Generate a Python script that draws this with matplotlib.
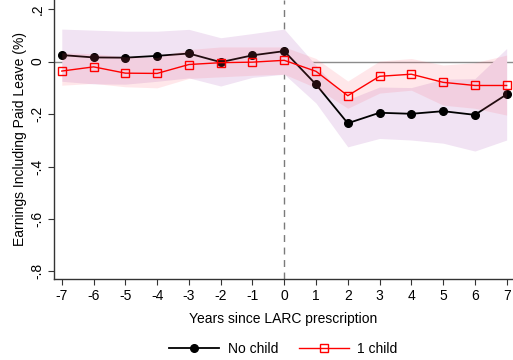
import numpy as np
import matplotlib.pyplot as plt

plt.rcParams['font.family'] = ['Liberation Sans', 'DejaVu Sans']

# event time
years = [-7, -6, -5, -4, -3, -2, -1, 0, 1, 2, 3, 4, 5, 6, 7]

# no child: point estimate and 95% CI
nochild = [0.025, 0.016, 0.015, 0.022, 0.031, -0.002, 0.024, 0.040,
           -0.087, -0.235, -0.195, -0.199, -0.189, -0.203, -0.125]
nochild_hi = [0.124, 0.120, 0.116, 0.116, 0.123, 0.091, 0.107, 0.124,
              -0.014, -0.145, -0.097, -0.099, -0.067, -0.065, 0.050]
nochild_lo = [-0.075, -0.085, -0.086, -0.075, -0.062, -0.093, -0.060, -0.048,
              -0.158, -0.325, -0.293, -0.299, -0.311, -0.341, -0.299]

# one child: point estimate and 95% CI
onechild = [-0.036, -0.020, -0.044, -0.045, -0.011, -0.004, -0.002, 0.005,
            -0.037, -0.130, -0.056, -0.048, -0.079, -0.091, -0.091]
onechild_hi = [0.034, 0.030, 0.018, 0.016, 0.046, 0.056, 0.056, 0.056,
               0.012, -0.074, 0.002, 0.012, -0.013, -0.004, 0.025]
onechild_lo = [-0.090, -0.083, -0.096, -0.100, -0.064, -0.058, -0.052, -0.048,
               -0.100, -0.178, -0.120, -0.109, -0.166, -0.178, -0.204]

yticks = [0.2, 0, -0.2, -0.4, -0.6, -0.8]
ytick_labels = ['.2', '0', '-.2', '-.4', '-.6', '-.8']

FS = 10

fig = plt.figure(figsize=(5.13, 3.6), dpi=100)
ax = fig.add_axes([0.105, 0.225, 0.895, 0.775])

ax.axhline(0, color='#8c8c8c', lw=1.0, zorder=1)
ax.axvline(0, color='#7a7a7a', lw=1.0, ls=(0, (5, 4)), zorder=1)

ax.fill_between(years, nochild_lo, nochild_hi, color='#f1e3f3', lw=0, zorder=2)
ax.plot(years, nochild, '-o', color='black', lw=1.3, ms=5.5, zorder=3,
        label='No child')
ax.fill_between(years, onechild_lo, onechild_hi, color='#ff5a6e', alpha=0.14,
                lw=0, zorder=4)
ax.plot(years, onechild, '-s', color='red', lw=1.0, ms=6, mfc='none',
        mew=1.0, zorder=5, label='1 child')

ax.set_xlim(-7.25, 7.2)
ax.set_ylim(-0.829, 0.235)
ax.set_xticks(years)
ax.set_xticklabels([str(y) for y in years])
ax.set_yticks(yticks)
ax.set_yticklabels(ytick_labels, rotation=90, va='center')

for s in ['top', 'right']:
    ax.spines[s].set_visible(False)
for s in ['left', 'bottom']:
    ax.spines[s].set_color('#333333')
    ax.spines[s].set_linewidth(1.0)
ax.tick_params(axis='both', direction='out', length=4.5, width=0.8,
               color='#333333', labelsize=FS, pad=3)
ax.tick_params(axis='y', pad=2)

ax.set_xlabel('Years since LARC prescription', fontsize=FS, labelpad=6)
ax.set_ylabel('Earnings Including Paid Leave (%)', fontsize=FS, labelpad=3)

ax.legend(loc='upper center', bbox_to_anchor=(0.5, -0.18), ncol=2,
          frameon=False, fontsize=FS, handlelength=3.6, handletextpad=0.6,
          columnspacing=1.5)

fig.savefig('out.png', dpi=100)
